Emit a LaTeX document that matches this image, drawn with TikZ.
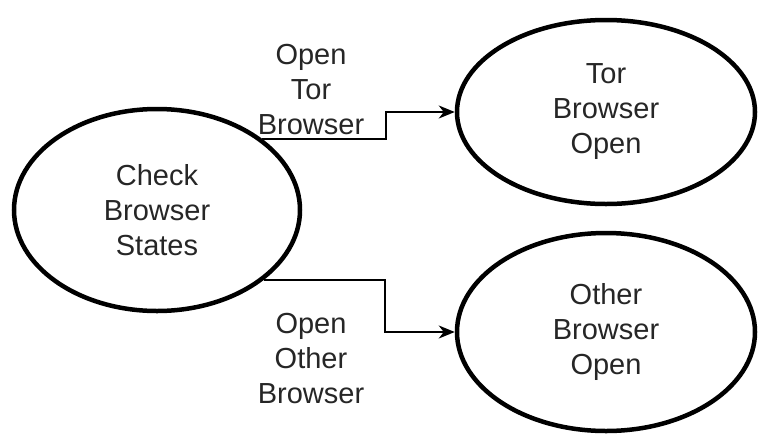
\documentclass[tikz,border=0pt]{standalone}
\usepackage{fontspec}
\setmainfont{Liberation Sans}
\usepackage{tikz}
\usetikzlibrary{shapes.geometric, arrows.meta}

\tikzset{
  state/.style={ellipse, draw=black, line width=4.5pt, inner sep=0pt, align=center,
    text=black!85, font=\fontsize{29}{35}\selectfont},
  flow/.style={line width=1.8pt, -{Stealth[length=16pt, width=13pt, inset=5pt]}},
  flowlabel/.style={align=center, text=black!85, font=\fontsize{29}{35}\selectfont}
}

\begin{document}
\begin{tikzpicture}[x=1pt, y=-1pt]
\useasboundingbox (0,0) rectangle (763,437);
\node[state, minimum width=286pt, minimum height=202pt] (check) at (157,210) {Check\\Browser\\States};
\node[state, minimum width=298pt, minimum height=184pt] (tor) at (606,112) {Tor\\Browser\\Open};
\node[state, minimum width=298pt, minimum height=198pt] (other) at (606,332) {Other\\Browser\\Open};
\node[flowlabel] (openTor) at (311,90) {Open\\Tor\\Browser};
\node[flowlabel] (openOther) at (311,359) {Open\\Other\\Browser};
\draw[flow] (check.34) -- ++(124,0) |- (tor.west);
\draw[flow] (check.-33) -- ++(121,0) |- (other.west);
\end{tikzpicture}
\end{document}
